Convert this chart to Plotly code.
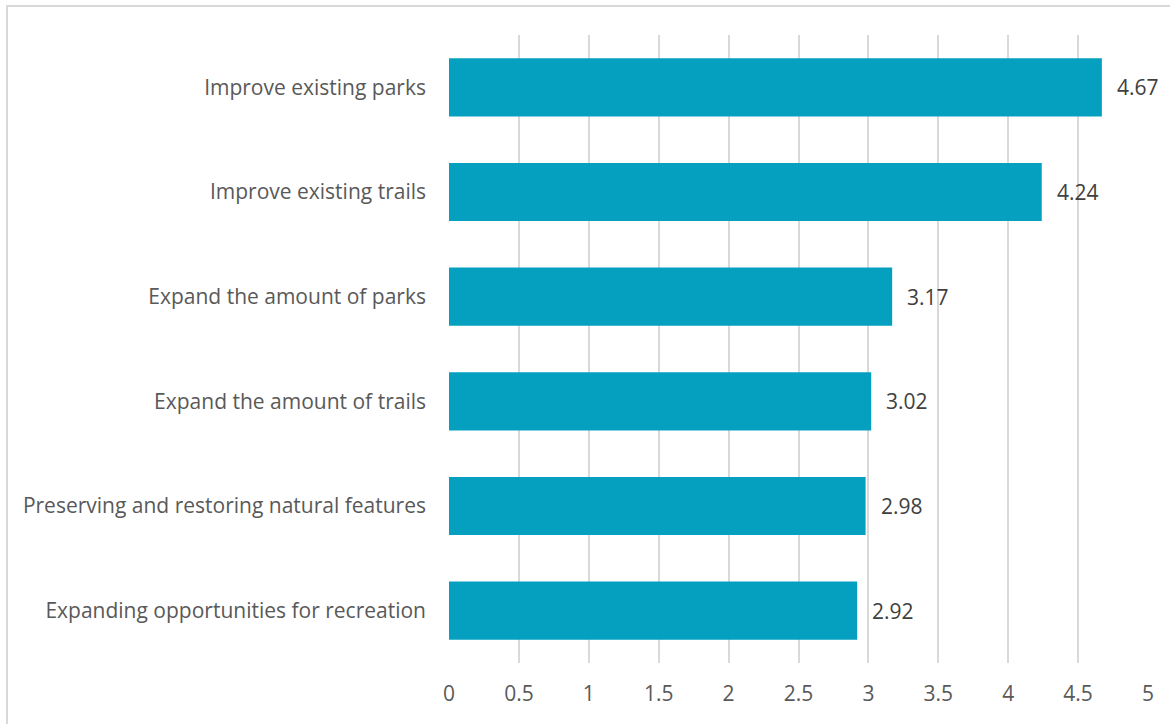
import plotly.graph_objects as go

# Survey priorities and their mean scores
categories = [
    "Improve existing parks",
    "Improve existing trails",
    "Expand the amount of parks",
    "Expand the amount of trails",
    "Preserving and restoring natural features",
    "Expanding opportunities for recreation",
]
scores = [4.67, 4.24, 3.17, 3.02, 2.98, 2.92]
x_ticks = [0, 0.5, 1, 1.5, 2, 2.5, 3, 3.5, 4, 4.5, 5]

W, H = 1170, 724
L, R, T, B = 449, 22, 35, 61
plot_w = W - L - R
plot_h = H - T - B

BAR = "#05A0C0"
FONT = "Open Sans"
FS = 21

fig = go.Figure(
    go.Bar(
        x=scores,
        y=categories,
        orientation="h",
        marker=dict(color=BAR, line=dict(width=0)),
        hoverinfo="x+y",
    )
)

# value labels to the right of each bar
for cat, val in zip(categories, scores):
    fig.add_annotation(
        x=val, y=cat, text=f"{val:.2f}", showarrow=False,
        xanchor="left", xshift=13,
        font=dict(family=FONT, size=FS, color="#404040"),
    )

# thin frame around the chart area
fig.add_shape(
    type="rect", xref="paper", yref="paper",
    x0=(7 - L) / plot_w, x1=(W + 10 - L) / plot_w,
    y0=-(B + 10) / plot_h, y1=1 + (T - 6) / plot_h,
    line=dict(color="#D9D9D9", width=2), fillcolor="rgba(0,0,0,0)",
    layer="below",
)

fig.update_layout(
    width=W, height=H,
    margin=dict(l=L, r=R, t=T, b=B, pad=0),
    paper_bgcolor="white", plot_bgcolor="white",
    bargap=0.445,
    showlegend=False,
    font=dict(family=FONT, size=FS, color="#595959"),
    xaxis=dict(
        range=[0, 5], tickvals=x_ticks,
        ticktext=[f"{v:g}" for v in x_ticks],
        showgrid=True, gridcolor="#D9D9D9", gridwidth=2,
        zeroline=False, showline=False, ticks="",
        ticklabelstandoff=16,
        tickfont=dict(family=FONT, size=FS, color="#595959"),
    ),
    yaxis=dict(
        autorange="reversed", showgrid=False, zeroline=False,
        showline=False, ticks="", ticklabelstandoff=22,
        tickfont=dict(family=FONT, size=FS, color="#595959"),
    ),
)

fig.write_html("out.html")
